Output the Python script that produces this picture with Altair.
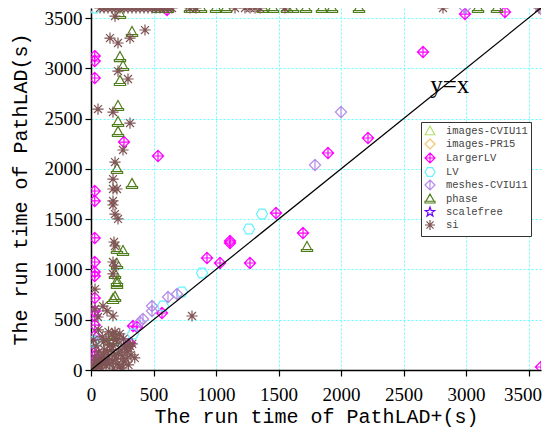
import altair as alt
import pandas as pd

series_order = ["images-CVIU11", "images-PR15", "LargerLV", "LV", "meshes-CVIU11", "phase", "scalefree", "si"]
series_colors = ["#b3e06a", "#f2c46e", "#ff00ff", "#66f2ff", "#b48ae8", "#4f7d1c", "#6a00ff", "#7f5454"]

# shapes (custom SVG paths)
TRI = "M0,-1L0.95,0.75L-0.95,0.75Z"
DIA = "M0,-1L1,0L0,1L-1,0Z"
DIA_CROSS = "M0,-1L1,0L0,1L-1,0Z M0,-1L0,1 M-1,0L1,0"
HEX = "M-0.5,-0.87L0.5,-0.87L1,0L0.5,0.87L-0.5,0.87L-1,0Z"
DIA_V = "M0,-1L1,0L0,1L-1,0Z M0,-1L0,1"
TRI_BAR = "M0,-1L0.8,0.45L-0.8,0.45Z M-1,0.45L1,0.45L1,0.8L-1,0.8Z"
STAR = ("M0,-1L0.235,-0.324L0.951,-0.309L0.38,0.124L0.588,0.809L0,0.4"
        "L-0.588,0.809L-0.38,0.124L-0.951,-0.309L-0.235,-0.324Z")
AST = "M0,-1L0,1M-1,0L1,0M-0.71,-0.71L0.71,0.71M-0.71,0.71L0.71,-0.71"
series_shapes = [TRI, DIA, DIA_CROSS, HEX, DIA_V, TRI_BAR, STAR, AST]

images_cviu_x = [40, 80]
images_cviu_y = [30, 60]
images_pr_x = [60]
images_pr_y = [40]

largerlv_x = [30, 30, 30, 30, 30, 30, 30, 30, 30, 30, 30, 30, 30, 30, 30, 30, 30, 30, 20,
              264, 536, 1480, 928, 1032, 1112, 1112, 1272, 568, 368, 336, 312, 296,
              2216, 1896, 1696, 2656, 2992, 3312, 3600, 608]
largerlv_y = [3122, 3073, 2904, 1780, 1681, 1313, 1074, 974, 935, 716, 587, 537, 447, 338, 189, 139, 100, 60, 20,
              2267, 2128, 1561, 1114, 1064, 1283, 1263, 1064, 567, 428, 437, 268, 239,
              2307, 2158, 1362, 3162, 3540, 3560, 30, 3580]

lv_x = [30, 1368, 1264, 888, 728, 576, 336, 216, 16, 32]
lv_y = [3600, 1551, 1402, 965, 776, 636, 358, 209, 278, 288]

meshes_x = [2000, 1792, 488, 488, 416, 616, 688, 392, 248, 2992, 3600]
meshes_y = [2566, 2039, 636, 587, 507, 726, 756, 477, 288, 3600, 3590]

phase_x = [536, 616, 792, 880, 1000, 1080, 1376, 1456, 1568, 1616, 1720, 1848, 1928, 2144, 3096, 3248,
           232, 328, 232, 256, 232, 216, 216, 216, 208, 328, 208, 256, 208, 192, 208, 208, 176, 176, 176,
           1728, 192]
phase_y = [3600, 3600, 3600, 3600, 3600, 3600, 3600, 3600, 3600, 3600, 3600, 3600, 3600, 3600, 3600, 3600,
           3540, 3361, 3112, 3023, 2874, 2625, 2466, 2367, 1999, 1850, 1203, 1183, 1054, 955, 885, 855, 706, 338, 288,
           1223, 726]

scalefree_x = [30, 100]
scalefree_y = [20, 90]

si_x = [72, 104, 136, 168, 200, 232, 264, 296, 328, 360, 392, 424, 456, 488, 520, 552, 584, 616, 648,
        792, 840, 1152, 1232, 1272, 1312, 1352, 1552, 2816, 3584,
        192, 152, 216, 312, 432, 216, 296, 56, 176, 312, 256, 192, 176, 176, 208, 176, 176, 192, 216,
        184, 192, 176, 192, 176, 32, 96, 128, 176, 56, 32, 192, 296, 808, 208, 312,
        10, 20, 30, 40, 50, 60, 70, 80, 90, 100, 110, 120, 130, 140, 150, 160, 170, 180, 190, 200,
        210, 220, 230, 240, 250, 260, 270, 280, 290, 300, 310, 320, 150, 60, 100, 200, 30, 80, 180,
        250, 120, 40, 90, 170, 350, 330, 20, 260, 140, 60, 230, 110]
si_y = [3600, 3600, 3600, 3600, 3600, 3600, 3600, 3600, 3600, 3600, 3600, 3600, 3600, 3600, 3600, 3600, 3600, 3600, 3600,
        3600, 3600, 3600, 3600, 3600, 3600, 3600, 3600, 3600, 3600,
        3520, 3301, 3252, 3301, 3381, 2973, 2894, 2595, 2565, 2456, 2188, 2068, 1899, 1800, 1800, 1681, 1641, 1551, 1502,
        1273, 1233, 1074, 1034, 955, 805, 636, 587, 537, 527, 607, 378, 229, 537, 308, 239,
        20, 40, 15, 60, 30, 90, 50, 120, 70, 150, 100, 40, 180, 130, 60, 200, 90, 240, 150, 110,
        60, 170, 30, 200, 140, 80, 230, 110, 180, 50, 240, 150, 250, 180, 280, 300, 120, 20, 20,
        20, 300, 240, 330, 350, 120, 260, 300, 310, 380, 400, 360, 200]

rows = []
for name, xs, ys in [
    ("images-CVIU11", images_cviu_x, images_cviu_y),
    ("images-PR15", images_pr_x, images_pr_y),
    ("LargerLV", largerlv_x, largerlv_y),
    ("LV", lv_x, lv_y),
    ("meshes-CVIU11", meshes_x, meshes_y),
    ("phase", phase_x, phase_y),
    ("scalefree", scalefree_x, scalefree_y),
    ("si", si_x, si_y),
]:
    for a, b in zip(xs, ys):
        rows.append({"x": a, "y": b, "series": name})
df = pd.DataFrame(rows)

diag_x = [0, 3600]
diag_y = [0, 3600]
diag = pd.DataFrame({"x": diag_x, "y": diag_y})

label_df = pd.DataFrame({"x": [2870], "y": [2830], "t": ["y=x"]})

tick_values = list(range(0, 3601, 250))
major = "datum.value % 500 === 0"

def make_axis(title, lpad, tpad, last_shift=0):
    extra = {}
    if last_shift:
        extra["labelOffset"] = {"condition": {"test": "datum.value === 3500", "value": last_shift}, "value": 0}
    return alt.Axis(
        values=tick_values,
        format="d",
        labelExpr=f"{major} ? datum.label : ''",
        labelOverlap=False,
        labelFlush=False,
        labelFont="Liberation Serif",
        labelFontSize=19,
        labelColor="black",
        labelPadding=lpad,
        tickSize={"condition": {"test": major, "value": 6}, "value": 3},
        tickColor="black",
        tickWidth=1.2,
        domainColor="black",
        domainWidth=1.5,
        grid=True,
        gridColor="#66ffff",
        gridDash=[2, 2],
        gridWidth=1,
        gridOpacity={"condition": {"test": major, "value": 1}, "value": 0},
        title=title,
        titleFont="Liberation Mono",
        titleFontSize=20,
        titleFontWeight="normal",
        titleColor="black",
        titlePadding=tpad,
        **extra,
    )

xs = alt.Scale(domain=[0, 3600], nice=False)
ys = alt.Scale(domain=[0, 3600], nice=False)

points = alt.Chart(df).mark_point(filled=False, strokeWidth=1.2, size=125, opacity=1, clip=True).encode(
    x=alt.X("x:Q", scale=xs, axis=make_axis("The run time of PathLAD+(s)", 9, 2, last_shift=-6)),
    y=alt.Y("y:Q", scale=ys, axis=make_axis("The run time of PathLAD(s)", 3, 14)),
    color=alt.Color("series:N", scale=alt.Scale(domain=series_order, range=series_colors),
                    legend=alt.Legend(orient="none", legendX=330, legendY=114, title=None,
                                      fillColor="white", strokeColor="#333333", padding=3,
                                      labelFont="Liberation Mono", labelFontSize=10.5, labelColor="#444444",
                                      symbolSize=100, symbolStrokeWidth=1.2, rowPadding=-2.4,
                                      labelOffset=10)),
    shape=alt.Shape("series:N", scale=alt.Scale(domain=series_order, range=series_shapes)),
    order=alt.Order("idx:Q"),
).transform_window(idx="row_number()")

line = alt.Chart(diag).mark_line(color="black", strokeWidth=1.2, clip=True).encode(
    x=alt.X("x:Q", scale=xs), y=alt.Y("y:Q", scale=ys)
)

txt = alt.Chart(label_df).mark_text(font="Liberation Serif", fontSize=25, color="black").encode(
    x=alt.X("x:Q", scale=xs), y=alt.Y("y:Q", scale=ys), text="t:N"
)

chart = alt.layer(points, line, txt).properties(
    width=450, height=362,
    autosize=alt.AutoSizeParams(type="none"),
    padding={"left": 83, "top": 0, "right": 1, "bottom": 58},
).configure_view(stroke=None)

chart.save("out.html", embed_options={"renderer": "svg", "actions": False})
